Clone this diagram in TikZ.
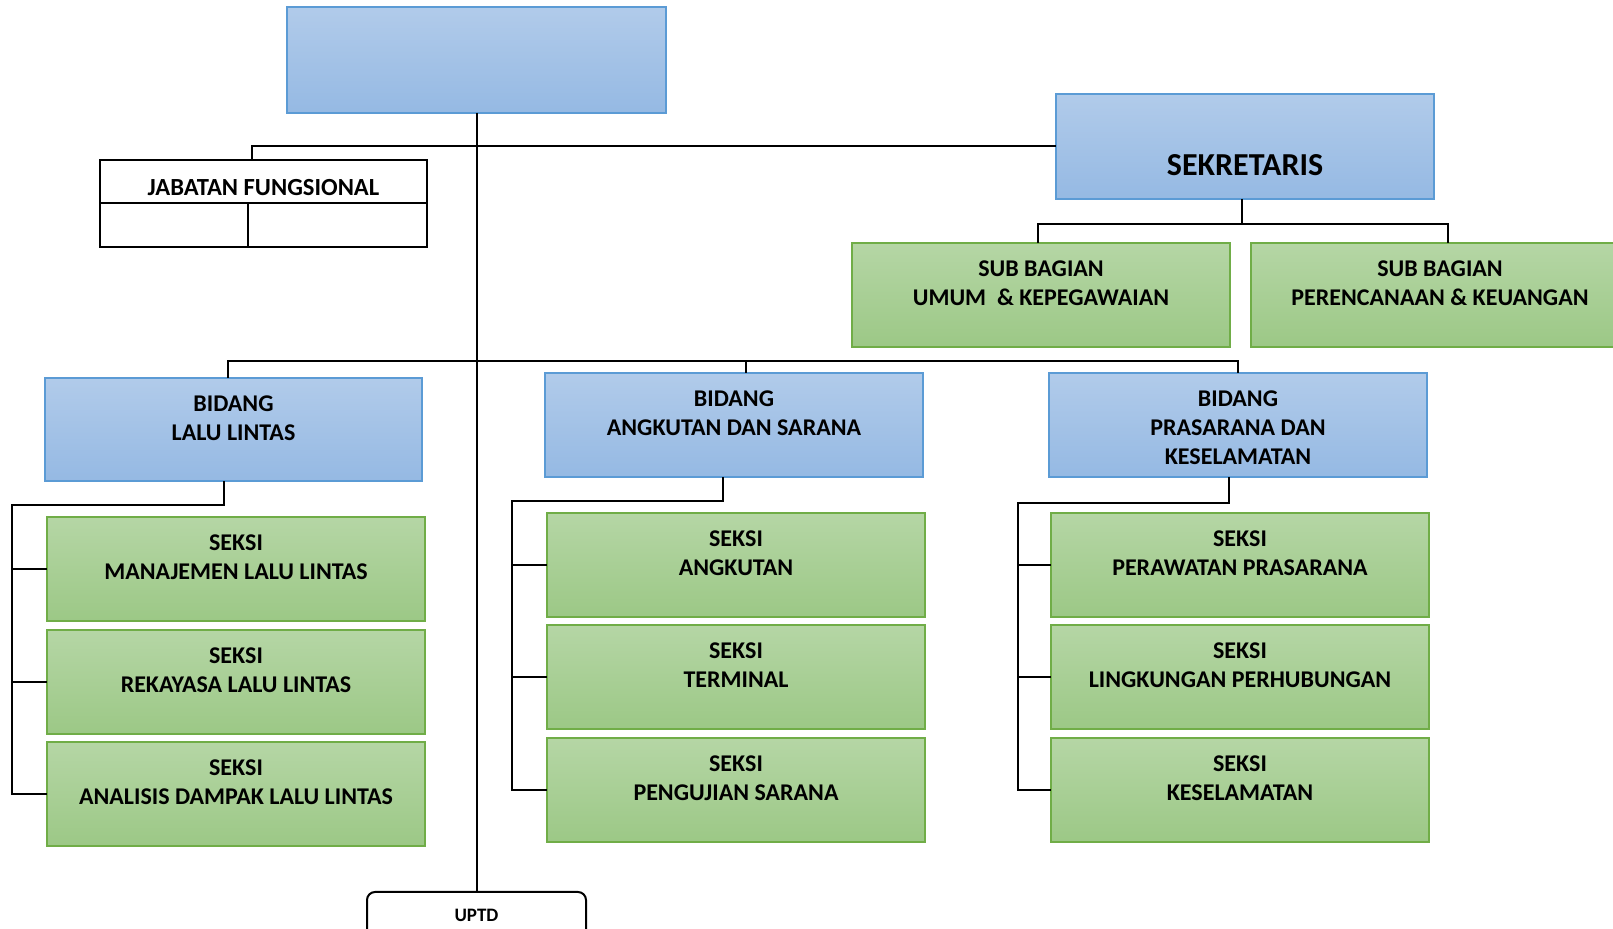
\documentclass[tikz,border=0pt]{standalone}
\usepackage{fontspec}
\setmainfont{Carlito}
\usepackage{tikz}
\usetikzlibrary{positioning}
\definecolor{blueTop}{HTML}{B1CBEA}
\definecolor{blueBot}{HTML}{95B9E3}
\definecolor{blueLine}{HTML}{5B9BD5}
\definecolor{greenTop}{HTML}{B5D6A5}
\definecolor{greenBot}{HTML}{9CC886}
\definecolor{greenLine}{HTML}{70AD47}

\begin{document}
\begin{tikzpicture}[x=0.5pt, y=-0.5pt,
        unit/.style={draw=blueLine, line width=1pt, top color=blueTop, bottom color=blueBot,
                     anchor=north west, inner sep=0pt, outer sep=0pt,
                     minimum width=189pt, minimum height=52pt},
        seksi/.style={unit, draw=greenLine, top color=greenTop, bottom color=greenBot},
        plain/.style={draw, line width=1pt, anchor=north west, inner sep=0pt, outer sep=0pt},
        txt/.style={anchor=north, align=center, inner sep=0pt, yshift=#1,
                    font=\bfseries\fontsize{12}{14.5}\selectfont},
        txt/.default=-8.85pt,
        link/.style={line width=1pt},
      ]
        \useasboundingbox (0,0) rectangle (1613,929);
        \clip (0,0) rectangle (1613,929);

        \node[unit, minimum width=189.5pt, minimum height=53pt] (head) at (287,7) {};
        \node[unit, minimum height=52.5pt,
              label={[txt=-29.85pt, font=\bfseries\fontsize{16}{19}\selectfont]north:SEKRETARIS}] (sek) at (1056,94) {};

        \node[plain, minimum width=163.5pt, minimum height=21.5pt,
              label={[txt=-9.55pt, font=\bfseries\fontsize{12.3}{14.5}\selectfont]north:JABATAN FUNGSIONAL}] (jab) at (100,160) {};
        \node[plain, minimum width=74pt, minimum height=22pt] (jabA) at (100,203) {};
        \node[plain, minimum width=89.5pt, minimum height=22pt] (jabB) at (248,203) {};

        \node[seksi, label={[txt]north:{SUB BAGIAN\\UMUM~ \& KEPEGAWAIAN}}] (subum) at (852,243) {};
        \node[seksi, label={[txt]north:{SUB BAGIAN\\PERENCANAAN \& KEUANGAN}}] (subren) at (1251,243) {};

        \node[unit, minimum width=188.5pt, minimum height=51.5pt,
              label={[txt]north:{BIDANG\\LALU LINTAS}}] (bid1) at (45,378) {};
        \node[unit, label={[txt]north:{BIDANG\\ANGKUTAN DAN SARANA}}] (bid2) at (545,373) {};
        \node[unit, label={[txt]north:{BIDANG\\PRASARANA DAN\\KESELAMATAN}}] (bid3) at (1049,373) {};

        \node[seksi, label={[txt]north:{SEKSI\\MANAJEMEN LALU LINTAS}}] (sl1) at (47,517) {};
        \node[seksi, label={[txt]north:{SEKSI\\REKAYASA LALU LINTAS}}] (sl2) at (47,630) {};
        \node[seksi, label={[txt]north:{SEKSI\\ANALISIS DAMPAK LALU LINTAS}}] (sl3) at (47,742) {};

        \node[seksi, label={[txt]north:{SEKSI\\ANGKUTAN}}] (sm1) at (547,513) {};
        \node[seksi, label={[txt]north:{SEKSI\\TERMINAL}}] (sm2) at (547,625) {};
        \node[seksi, label={[txt]north:{SEKSI\\PENGUJIAN SARANA}}] (sm3) at (547,738) {};

        \node[seksi, label={[txt]north:{SEKSI\\PERAWATAN PRASARANA}}] (sr1) at (1051,513) {};
        \node[seksi, label={[txt]north:{SEKSI\\LINGKUNGAN PERHUBUNGAN}}] (sr2) at (1051,625) {};
        \node[seksi, label={[txt]north:{SEKSI\\KESELAMATAN}}] (sr3) at (1051,738) {};

        \node[plain, rounded corners=4pt, minimum width=109.5pt, minimum height=25pt,
              label={[txt=-8.45pt, font=\bfseries\fontsize{9.5}{11}\selectfont]north:UPTD}] (uptd) at (367,892) {};

        \draw[link] (head.south) -- (uptd.north);
        \draw[link] ([xshift=-5.75pt]jab.north) |- (sek.west);
        \draw[link] ([xshift=-1.5pt]sek.south) -- ++(0,25);
        \draw[link] ([xshift=-1.75pt]subum.north) -- ++(0,-19) -| ([xshift=4pt]subren.north);
        \draw[link] ([xshift=-2.75pt]bid1.north) -- ++(0,-17) -| (bid3.north);
        \draw[link] ([xshift=6pt]bid2.north) -- ++(0,-12);

        \coordinate (spL) at (12,505);
        \coordinate (spM) at (512,501);
        \coordinate (spR) at (1018,503);
        \draw[link] ([xshift=-5pt]bid1.south) |- (spL) |- (sl3.west);
        \draw[link] (spL) |- (sl1.west) (spL) |- (sl2.west);
        \draw[link] ([xshift=-5.5pt]bid2.south) |- (spM) |- (sm3.west);
        \draw[link] (spM) |- (sm1.west) (spM) |- (sm2.west);
        \draw[link] ([xshift=-4.5pt]bid3.south) |- (spR) |- (sr3.west);
        \draw[link] (spR) |- (sr1.west) (spR) |- (sr2.west);
      \end{tikzpicture}
\end{document}
